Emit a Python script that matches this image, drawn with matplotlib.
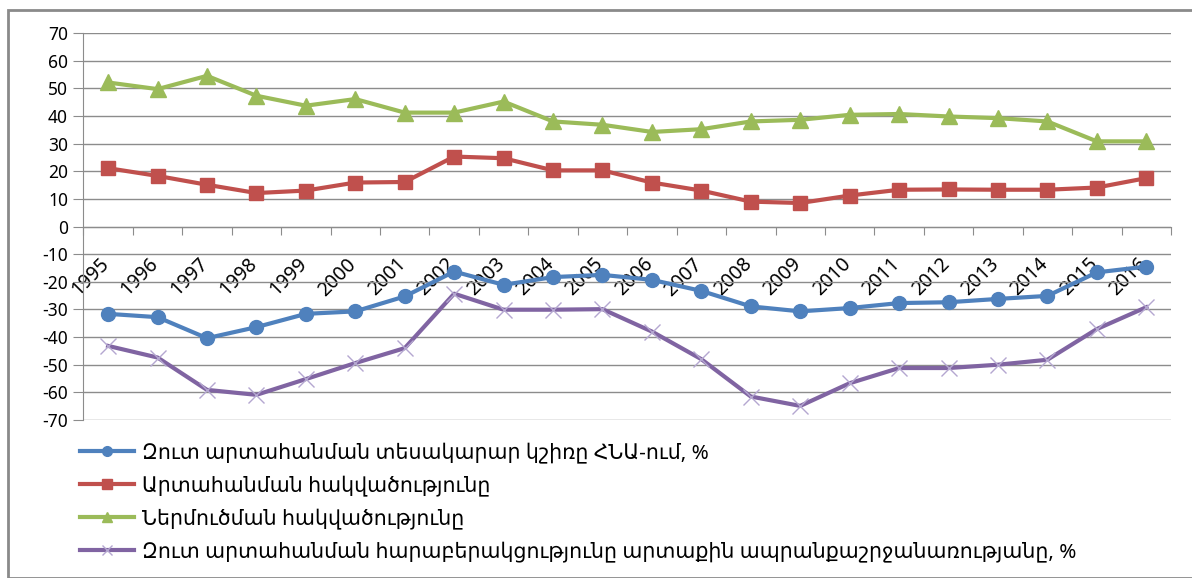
import matplotlib
matplotlib.use("Agg")
import matplotlib.pyplot as plt
import matplotlib.transforms as mtransforms
from matplotlib.patches import Rectangle
from matplotlib.ticker import FixedLocator, NullFormatter
import numpy as np

years = [str(y) for y in range(1995, 2017)]

net_export_gdp = [-31.6, -32.8, -40.4, -36.4, -31.6, -30.7, -25.3, -16.3, -21.1, -18.3, -17.5,
                  -19.3, -23.3, -28.9, -30.7, -29.5, -27.7, -27.4, -26.2, -25.1, -16.6, -14.5]
export_propensity = [21.1, 18.3, 15.1, 12.1, 13.0, 15.9, 16.1, 25.3, 24.7, 20.3, 20.3,
                     15.9, 13.0, 9.0, 8.5, 11.2, 13.3, 13.4, 13.3, 13.3, 14.1, 17.5]
import_propensity = [52.1, 49.7, 54.5, 47.3, 43.7, 46.1, 41.2, 41.2, 45.2, 38.0, 36.8,
                     34.2, 35.2, 38.0, 38.6, 40.4, 40.7, 39.8, 39.2, 38.0, 30.8, 30.8]
net_export_trade = [-43.2, -47.4, -59.1, -60.9, -55.2, -49.4, -44.0, -24.3, -30.1, -30.1, -29.9,
                    -38.0, -48.0, -61.5, -64.9, -56.7, -51.2, -51.2, -50.0, -48.2, -37.1, -29.2]

labels = [
    "Զուտ արտահանման տեսակարար կշիռը ՀՆԱ-ում, %",
    "Արտահանման հակվածությունը",
    "Ներմուծման հակվածությունը",
    "Զուտ արտահանման հարաբերակցությունը արտաքին ապրանքաշրջանառությանը, %",
]

plt.rcParams['font.family'] = ['Noto Sans', 'DejaVu Sans']
plt.rcParams['axes.unicode_minus'] = False

W, H = 1192, 578
fig = plt.figure(figsize=(W / 100, H / 100), dpi=100)
fig.patches.append(Rectangle((8 / W, 0), 1.0, 1 - 10 / H, transform=fig.transFigure,
                             fill=False, edgecolor='#8a8a8a', linewidth=2))

ax = fig.add_axes([83.4 / W, 1 - 420 / H, (1171 - 83.4) / W, (420 - 33) / H])
x = np.arange(len(years))

ax.plot(x, net_export_gdp, color='#4F81BD', lw=3, marker='o', ms=10, label=labels[0])
ax.plot(x, export_propensity, color='#C0504D', lw=3, marker='s', ms=10, label=labels[1])
ax.plot(x, import_propensity, color='#9BBB59', lw=3, marker='^', ms=11, label=labels[2])
ax.plot(x, net_export_trade, color='#8064A2', lw=3, marker='x', ms=11, mew=1,
        mec='#B4A7D0', label=labels[3])

ax.set_xlim(-0.5, len(years) - 0.5)
ax.set_ylim(-70, 70)
ax.set_yticks(range(-70, 71, 10))
ax.grid(axis='y', color='#8c8c8c', lw=1)
ax.set_axisbelow(True)

for s in ['top', 'right']:
    ax.spines[s].set_visible(False)
ax.spines['left'].set_color('#8c8c8c')
ax.spines['bottom'].set_color('#8c8c8c')
ax.spines['bottom'].set_position(('data', 0))

ax.xaxis.set_major_locator(FixedLocator(np.arange(-0.5, len(years), 1.0)))
ax.xaxis.set_major_formatter(NullFormatter())
ax.xaxis.set_minor_locator(FixedLocator(x))
ax.set_xticklabels(years, minor=True, rotation=45, ha='right', rotation_mode='anchor',
                   fontsize=14)
ax.tick_params(axis='x', which='major', length=6, color='#8c8c8c')
ax.tick_params(axis='x', which='minor', length=0, pad=20)
ax.tick_params(axis='y', length=7, color='#8c8c8c', labelsize=12.5, pad=4)

# shift year labels a bit to the left, like the original
shift = mtransforms.ScaledTranslation(-9 / 100, 0, fig.dpi_scale_trans)
for lbl in ax.get_xticklabels(minor=True):
    lbl.set_transform(lbl.get_transform() + shift)

fig.legend(loc='upper left', bbox_to_anchor=(72 / W, 1 - 434 / H), frameon=False,
           fontsize=14.8, handlelength=2.6, handletextpad=0.4, labelspacing=0.58,
           markerscale=0.7, borderaxespad=0)

fig.savefig('out.png', dpi=100)
